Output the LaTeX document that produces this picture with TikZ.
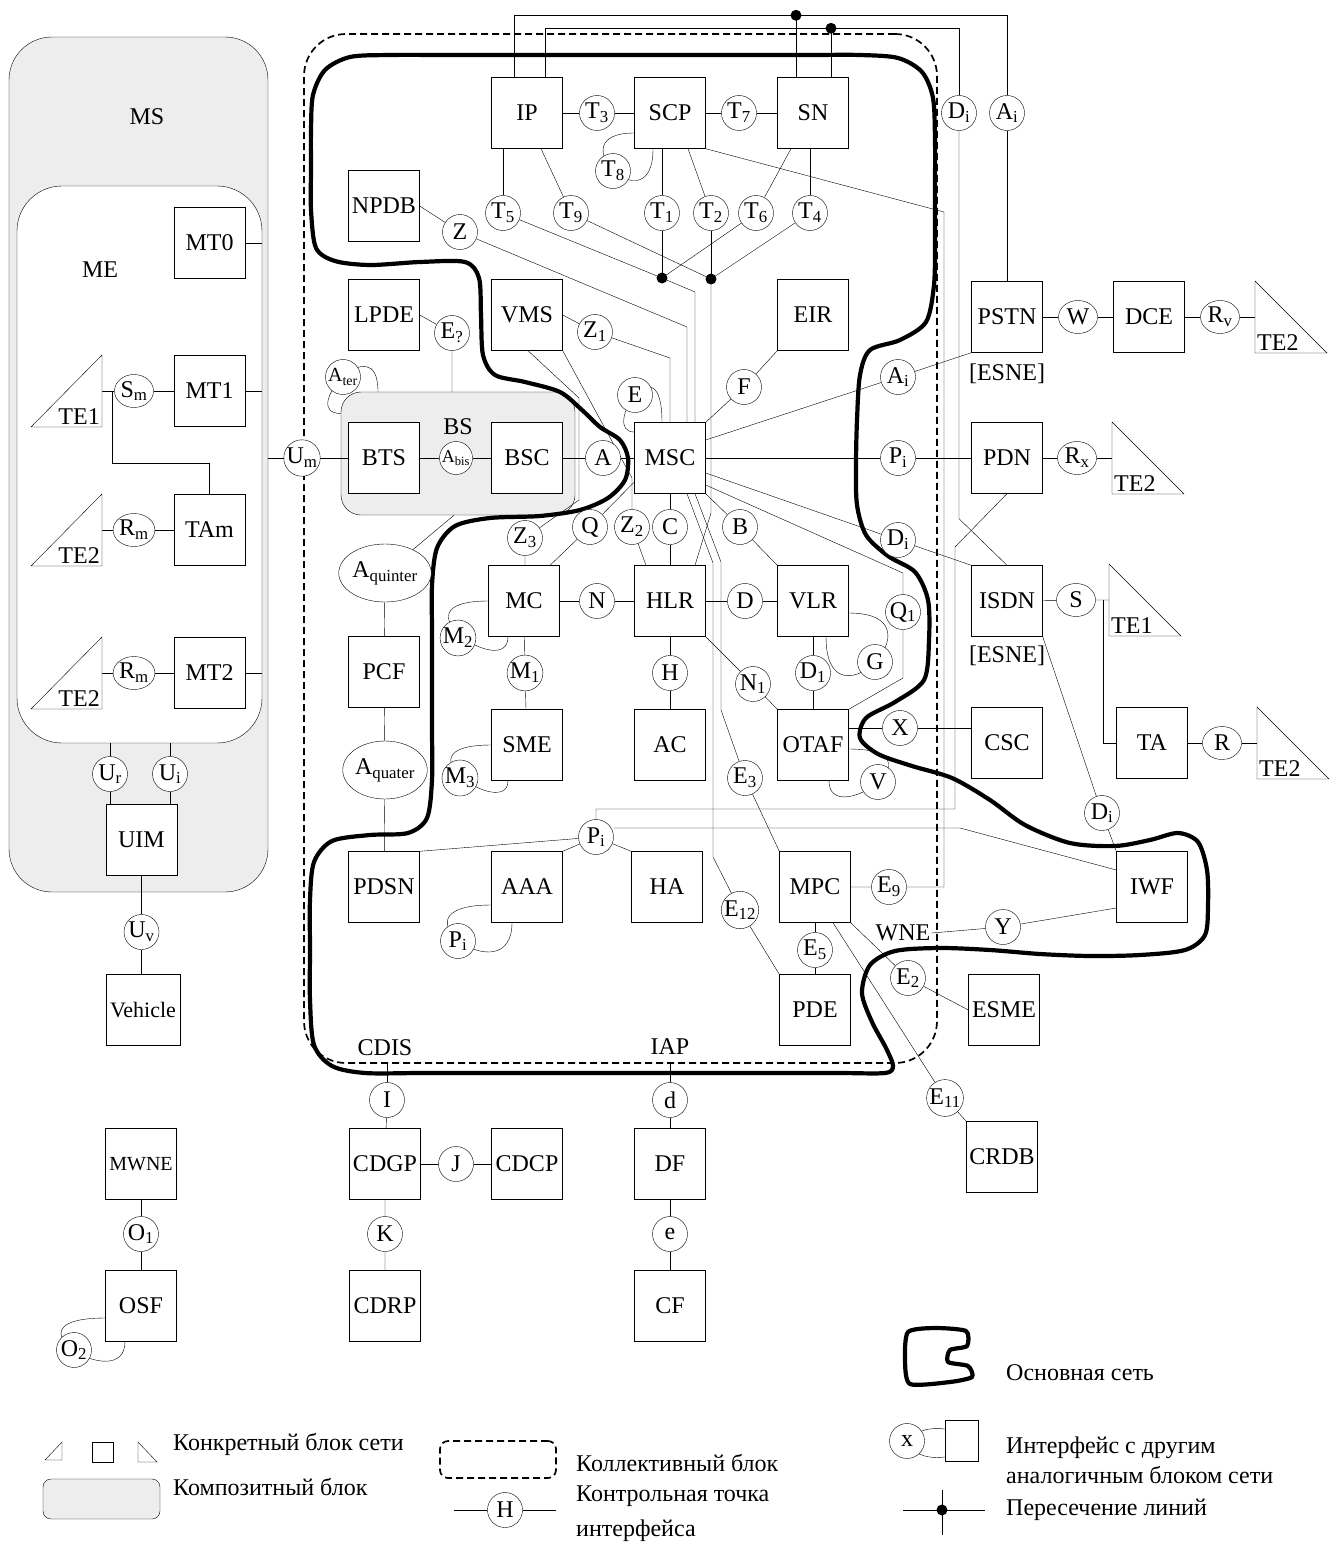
\documentclass[tikz,border=0pt]{standalone}
\usepackage{fontspec}
\setmainfont{Liberation Serif}
\usetikzlibrary{positioning, shapes.geometric, calc}

\pgfdeclarelayer{back}
\pgfdeclarelayer{wires}
\pgfsetlayers{back,wires,main}

\begin{document}
\begin{tikzpicture}[
  x=1pt, y=-1pt,
  font=\fontsize{24}{28}\selectfont,
  line width=1.6pt,
  blk/.style={draw, fill=white, minimum width=71pt, minimum height=71pt, inner sep=0pt},
  ip/.style={circle, draw, fill=white, minimum size=35pt, inner sep=0pt},
  ipw/.style={ellipse, draw, fill=white, minimum width=39pt, minimum height=33pt, inner sep=0pt},
  ipq/.style={ellipse, draw, fill=white, minimum width=84pt, minimum height=58pt, inner sep=0pt},
  lab/.style={inner sep=1pt},
  comp/.style={draw, fill=black!7},
  coll/.style={draw, line width=1.7pt, dash pattern=on 7pt off 4pt, rounded corners=42pt},
  core/.style={line width=4.2pt, line join=round},
  jdot/.style={circle, fill, inner sep=0pt, minimum size=11pt},
]
\useasboundingbox (0,0) rectangle (1338,1555);

% ---- composite and collective blocks -----------------------------------
\begin{pgfonlayer}{back}
  \node[comp, rounded corners=43pt, minimum width=259pt, minimum height=855pt] (MS) at (138.5,464.5) {};
  \node[draw, fill=white, rounded corners=45pt, minimum width=245pt, minimum height=557pt] (ME) at (139.5,464.5) {};
  \node[comp, rounded corners=20pt, minimum width=234pt, minimum height=123pt] (BS) at (458,453.5) {};
  \node[coll, minimum width=633pt, minimum height=1029pt] (Coll) at (620.5,548.5) {};
\end{pgfonlayer}

% ---- mobile station ------------------------------------------------------
\node[lab] (MSl) at (147,117) {MS};
\node[lab] (MEl) at (100,270) {ME};
\node[blk] (MT0) at (209.5,243) {MT0};
\node[blk] (MT1) at (209.5,391) {MT1};
\node[blk] (TAm) at (209.5,530) {TAm};
\node[blk] (MT2) at (209.5,673) {MT2};
\node[blk] (UIM) at (141.5,840) {UIM};
\node[blk, minimum width=74pt, font=\fontsize{22}{26}\selectfont] (Veh) at (143,1010) {Vehicle};
\node[ipw] (Sm) at (134,391) {S\textsubscript{m}};
\node[ipw] (Rm1) at (134,530) {R\textsubscript{m}};
\node[ipw] (Rm2) at (134,673) {R\textsubscript{m}};
\node[ip] (Ur) at (110,774) {U\textsubscript{r}};
\node[ip] (Ui) at (170,774) {U\textsubscript{i}};
\node[ip] (Uv) at (141.5,932) {U\textsubscript{v}};
\node[ip] (Um) at (302,458) {U\textsubscript{m}};

\foreach \nm/\x/\y/\t in {teA/102/391/TE1, teB/102/530/TE2, teC/102/673/TE2} {
  \draw[fill=white] (\x-71,\y+36) -- (\x,\y-36) -- (\x,\y+36) -- cycle;
  \coordinate (\nm) at (\x,\y);
  \node[lab, anchor=south east] (\nm t) at (\x-1,\y+35) {\t};
}

% ---- intelligent network part -------------------------------------------
\node[blk] (IP) at (527,113) {IP};
\node[blk] (SCP) at (670,113) {SCP};
\node[blk] (SN) at (813,113) {SN};
\node[ip] (T3) at (597,113) {T\textsubscript{3}};
\node[ip] (T7) at (739,113) {T\textsubscript{7}};
\node[ip] (T8) at (613,171) {T\textsubscript{8}};
\node[ip] (T5) at (503,213) {T\textsubscript{5}};
\node[ip] (T9) at (571,213) {T\textsubscript{9}};
\node[ip] (T1) at (662,213) {T\textsubscript{1}};
\node[ip] (T2) at (711,213) {T\textsubscript{2}};
\node[ip] (T6) at (756,213) {T\textsubscript{6}};
\node[ip] (T4) at (810,213) {T\textsubscript{4}};
\node[jdot] (dotA) at (662,278) {};
\node[jdot] (dotB) at (711,279) {};
\node[ip] (DiT) at (959,113) {D\textsubscript{i}};
\node[ip] (AiT) at (1007,113) {A\textsubscript{i}};

% ---- core network blocks ------------------------------------------------
\node[blk] (NPDB) at (384,206) {NPDB};
\node[blk] (LPDE) at (384,315) {LPDE};
\node[blk] (VMS) at (527,315) {VMS};
\node[blk] (EIR) at (813,315) {EIR};
\node[blk] (BTS) at (384,458) {BTS};
\node[blk] (BSC) at (527,458) {BSC};
\node[blk] (MSC) at (670,458) {MSC};
\node[blk] (MC) at (524,601) {MC};
\node[blk] (HLR) at (670,601) {HLR};
\node[blk] (VLR) at (813,601) {VLR};
\node[blk] (PCF) at (384,672) {PCF};
\node[blk] (SME) at (527,745) {SME};
\node[blk] (AC) at (670,745) {AC};
\node[blk] (OTAF) at (813,745) {OTAF};
\node[blk] (PDSN) at (384,887) {PDSN};
\node[blk] (AAA) at (527,887) {AAA};
\node[blk] (HA) at (667,887) {HA};
\node[blk] (MPC) at (815,887) {MPC};
\node[blk] (PDE) at (815,1010) {PDE};
\node[lab] (BSl) at (458,427) {BS};

\node[ip] (Z) at (460,232) {Z};
\node[ip] (Eq) at (452,333) {E\textsubscript{?}};
\node[ip] (Z1) at (595,332) {Z\textsubscript{1}};
\node[ip, font=\fontsize{20}{24}\selectfont] (Ater) at (343,377) {A\textsubscript{ter}};
\node[ip] (E) at (635,395) {E};
\node[ip] (F) at (744,387) {F};
\node[ip, minimum size=33pt, font=\fontsize{18}{20}\selectfont] (Abis) at (456,458) {A\textsubscript{bis}};
\node[ip] (A) at (603,458) {A};
\node[ip] (Ai) at (898,377) {A\textsubscript{i}};
\node[ip] (Pi) at (898,458) {P\textsubscript{i}};
\node[ip] (Di) at (898,540) {D\textsubscript{i}};
\node[ip] (Z3) at (525,538) {Z\textsubscript{3}};
\node[ip] (Q) at (590,527) {Q};
\node[ip] (Z2) at (632,527) {Z\textsubscript{2}};
\node[ip] (C) at (670,527) {C};
\node[ip] (B) at (740,527) {B};
\node[ip] (N) at (597,601) {N};
\node[ip] (D) at (745,601) {D};
\node[ip] (Q1) at (903,612) {Q\textsubscript{1}};
\node[ipq] (Aq5) at (385,573) {A\textsubscript{quinter}};
\node[ip] (M2) at (458,638) {M\textsubscript{2}};
\node[ip] (M1) at (525,673) {M\textsubscript{1}};
\node[ip] (H) at (670,673) {H};
\node[ip] (N1) at (753,684) {N\textsubscript{1}};
\node[ip] (D1) at (813,673) {D\textsubscript{1}};
\node[ip] (G) at (875,662) {G};
\node[ipq] (Aq4) at (385,770) {A\textsubscript{quater}};
\node[ip] (X) at (900,728) {X};
\node[ip] (M3) at (460,778) {M\textsubscript{3}};
\node[ip] (V) at (878,782) {V};
\node[ip] (E3) at (745,778) {E\textsubscript{3}};
\node[ip] (Pi2) at (596,837) {P\textsubscript{i}};
\node[ip] (Pi3) at (458,941) {P\textsubscript{i}};
\node[ip] (E9) at (889,887) {E\textsubscript{9}};
\node[ip] (E12) at (740,910) {E\textsubscript{12}};
\node[ip] (E5) at (815,950) {E\textsubscript{5}};
\node[ip] (E2b) at (908,978) {E\textsubscript{2}};
\node[ip] (Y) at (1003,927) {Y};
\node[lab] (WNE) at (903,933) {WNE};
\node[ip] (E11) at (945,1098) {E\textsubscript{11}};
\node[lab] (CDIS) at (385,1048) {CDIS};
\node[lab] (IAP) at (670,1047) {IAP};

% ---- outer networks -----------------------------------------------------
\node[blk] (PSTN) at (1007,317) {PSTN};
\node[lab] (esneA) at (1007,374) {[ESNE]};
\node[blk] (DCE) at (1149,317) {DCE};
\node[blk] (PDN) at (1007,458) {PDN};
\node[blk] (ISDN) at (1007,601) {ISDN};
\node[lab] (esneB) at (1007,656) {[ESNE]};
\node[blk] (CSC) at (1007,743) {CSC};
\node[blk] (TA) at (1152,743) {TA};
\node[blk] (IWF) at (1152,887) {IWF};
\node[blk] (ESME) at (1004,1010) {ESME};
\node[blk] (CRDB) at (1002,1157) {CRDB};
\node[ipw] (W) at (1078,317) {W};
\node[ipw] (Rv) at (1220,317) {R\textsubscript{v}};
\node[ipw] (Rx) at (1077,458) {R\textsubscript{x}};
\node[ipw] (S) at (1076,600) {S};
\node[ipw] (R) at (1222,743) {R};
\node[ip] (Di3) at (1102,813) {D\textsubscript{i}};

\foreach \nm/\x/\y/\t in {teD/1255/317/TE2, teE/1112/458/TE2, teF/1109/600/TE1, teG/1257/743/TE2} {
  \draw[fill=white] (\x,\y-36) -- (\x,\y+36) -- (\x+72,\y+36) -- cycle;
  \coordinate (\nm) at (\x,\y);
  \node[lab, anchor=south west] (\nm t) at (\x+1,\y+35) {\t};
}

% ---- charging, lawful interception, operations ---------------------------
\node[ip] (I) at (387,1100) {I};
\node[blk] (CDGP) at (385,1164) {CDGP};
\node[ip] (J) at (456,1164) {J};
\node[blk] (CDCP) at (527,1164) {CDCP};
\node[ip] (K) at (385,1234) {K};
\node[blk] (CDRP) at (385,1306) {CDRP};
\node[ip] (d) at (670,1100) {d};
\node[blk] (DF) at (670,1164) {DF};
\node[ip] (e) at (670,1234) {e};
\node[blk] (CF) at (670,1306) {CF};
\node[blk, font=\fontsize{20}{24}\selectfont] (MWNE) at (141,1164) {MWNE};
\node[ip] (O1) at (141,1234) {O\textsubscript{1}};
\node[blk] (OSF) at (141,1306) {OSF};
\node[ip] (O2) at (74,1350) {O\textsubscript{2}};

% ---- connections ----------------------------------------------------------
\begin{pgfonlayer}{wires}
  % inside the mobile station
  \draw (MT0.east) -- (MT0.east -| ME.east);
  \draw (MT1.east) -- (MT1.east -| ME.east);
  \draw (MT2.east) -- (MT2.east -| ME.east);
  \draw (teA) -- (Sm) -- (MT1);
  \coordinate (jSm) at (112,391);
  \draw (jSm) |- ([yshift=31pt]TAm.north) -- (TAm.north);
  \draw (teB) -- (Rm1) -- (TAm);
  \draw (teC) -- (Rm2) -- (MT2);
  \draw (Ur |- ME.south) -- (Ur) -- (Ur |- UIM.north);
  \draw (Ui |- ME.south) -- (Ui) -- (Ui |- UIM.north);
  \draw (UIM) -- (Uv) -- (Uv |- Veh.north);
  \draw (Um -| MS.east) -- (Um) -- (BTS);

  % top busses
  \draw ([xshift=-13pt]IP.north) -- ++(0,-62) -| (AiT);
  \draw (AiT) -- (PSTN);
  \draw ([xshift=18pt]IP.north) -- ++(0,-49) -| (DiT);
  \draw (DiT.south) -- ++(0,388) -- (ISDN.north);
  \draw ([xshift=-17pt]SN.north) -- ++(0,-62) node[jdot] (dotT1) {};
  \draw ([xshift=18pt]SN.north) -- ++(0,-49) node[jdot] (dotT2) {};

  % IN interfaces
  \draw (IP) -- (T3) -- (SCP) -- (T7) -- (SN);
  \draw ([yshift=-20pt]SCP.west) .. controls +(-80,0) and +(0,80) .. ([xshift=-17pt]SCP.south);
  \draw ([xshift=-24pt]IP.south) -- (T5);
  \draw ([xshift=14pt]IP.south) -- (T9);
  \draw ([xshift=-8pt]SCP.south) -- (T1);
  \draw ([xshift=18pt]SCP.south) -- (T2);
  \draw ([xshift=-22pt]SN.south) -- (T6);
  \draw ([xshift=-3pt]SN.south) -- (T4);
  \draw (T1) -- (dotA.center);
  \draw (T6) -- (dotA.center);
  \draw (T5) -- (dotA.center) -- ++(33,14) -- ([xshift=25pt]MSC.north);
  \draw (T2) -- (dotB.center);
  \draw (T9) -- (dotB.center);
  \draw (T4) -- (dotB.center);
  \draw (dotB.center) -- ++(0,234) -- ([xshift=25pt]HLR.north);
  \draw (SCP.south east) -- (944,212) -- (944,887) -- (E9) -- (MPC);

  % around the MSC
  \draw (NPDB.east) -- (Z) -- (687,327) -- ([xshift=17pt]MSC.north);
  \draw (LPDE.east) -- (Eq) -- (Eq |- BS.north);
  \draw (VMS.east) -- (Z1) -- (670,358) -- (MSC.north);
  \draw ([xshift=1pt]VMS.south) -- (579,398) -- (579,500) -- (Z3) -- (Z3 |- MC.north);
  \draw (VMS.south east) -- (632,478) -- (Z2) -- ([xshift=-24pt]HLR.north);
  \draw (EIR.south west) -- (F) -- (MSC.north east);
  \draw ([xshift=-8pt]MSC.north) .. controls +(0,-85) and +(-35,0) .. ([yshift=26pt]MSC.west);
  \draw (BTS) -- (Abis) -- (BSC) -- (A) -- (MSC);
  \draw ([xshift=-80pt]BS.north) .. controls +(0,-68) and +(-44,0) .. ([yshift=40pt]BS.west);
  \draw ([xshift=-4pt]BS.south) -- (Aq5) -- (PCF) -- (Aq4) -- (PDSN);
  \draw ([yshift=-24pt]MSC.west) -- (Q) -- ([xshift=26pt]MC.north);
  \draw (MSC) -- (C) -- (HLR);
  \draw (MSC.south east) -- (B) -- (VLR.north west);
  \draw ([xshift=17pt]MSC.south) -- (713,563) -- (713,857) -- (E12) -- (PDE.north west);
  \draw ([xshift=25pt]MSC.south) -- (721,562) -- (721,710) -- (E3) -- (MPC.north west);
  \draw ([yshift=18pt]MSC.east) -- (Ai) -- (PSTN.south west);
  \draw (MSC) -- (Pi) -- (PDN);
  \draw ([yshift=-15pt]MSC.east) -- (Di) -- (ISDN.north west);
  \draw ([yshift=-27pt]MSC.east) -- (903,573) -- (Q1) -- (903,678) -- (OTAF.north east);

  % HLR, VLR and friends
  \draw (MC) -- (N) -- (HLR) -- (D) -- (VLR);
  \draw (MC.west) .. controls +(-100,0) and +(0,45) .. ([xshift=-16pt]MC.south);
  \draw (MC) -- (M1) -- (SME);
  \draw (SME.west) .. controls +(-100,0) and +(0,40) .. ([xshift=-19pt]SME.south);
  \draw (HLR) -- (H) -- (AC);
  \draw (HLR.south east) -- (N1) -- (OTAF.north west);
  \draw (VLR) -- (D1) -- (OTAF);
  \draw ([yshift=-12pt]VLR.east) .. controls +(100,0) and +(0,100) .. ([xshift=13pt]VLR.south);
  \draw ([yshift=17pt]OTAF.east) -- (X) -- (X -| CSC.west);
  \draw ([yshift=-4pt]OTAF.east) .. controls +(100,0) and +(0,50) .. ([xshift=16pt]OTAF.south);

  % packet data
  \draw (PDSN.north east) -- (Pi2) -- (AAA.north east);
  \draw (Pi2) -- (HA.north west);
  \draw (Pi2.north) -- (596,809) -- (955,809) -- (955,547) -- (PDN.south);
  \draw ([yshift=9pt]Pi2.east) -- (960,828) -- ([yshift=17pt]IWF.west);
  \draw ([yshift=-18pt]AAA.west) .. controls +(-110,0) and +(0,75) .. ([xshift=-15pt]AAA.south);

  % positioning
  \draw (MPC) -- (E5) -- (PDE);
  \draw (MPC.south east) -- (E2b) -- (ESME.west);
  \draw ([xshift=18pt]MPC.south) -- (E11) -- (CRDB.north west);
  \draw (ISDN.south east) -- (Di3) -- (IWF.north west);
  \draw ([yshift=-21pt]IWF.west) -- (Y) -- (WNE.east);

  % external networks
  \draw (PSTN) -- (W) -- (DCE) -- (Rv) -- (teD);
  \draw (PDN) -- (Rx) -- (teE);
  \draw (ISDN) -- (S) -- (teF);
  \coordinate (jS) at (1103,600);
  \draw (jS) |- (TA.west);
  \draw (TA) -- (R) -- (teG);

  % lower blocks
  \draw (I) -- (I |- Coll.south);
  \draw (d) -- (d |- Coll.south);
  \draw (I) -- (CDGP) -- (K) -- (CDRP);
  \draw (CDGP) -- (J) -- (CDCP);
  \draw (d) -- (DF) -- (e) -- (CF);
  \draw (MWNE) -- (O1) -- (OSF);
  \draw ([yshift=-12pt]OSF.west) .. controls +(-110,0) and +(0,55) .. ([xshift=-16pt]OSF.south);

  % core network outline
  \draw[core] plot[smooth cycle, tension=0.5] coordinates {
    (311,130) (313,95) (325,70) (350,57) (390,55) (450,55) (510,55) (570,55)
    (630,55) (690,55) (750,55) (810,55) (860,55) (898,58) (922,72) (933,98)
    (935,140) (935,190) (935,240) (934,285) (926,322) (900,340) (870,350)
    (860,375) (857,420) (856,465) (857,505) (866,535) (888,556) (915,572)
    (928,600) (929,640) (924,680) (895,702) (866,718) (860,738) (878,754)
    (912,766) (952,778) (990,800) (1025,825) (1070,843) (1115,846) (1150,840)
    (1178,833) (1198,842) (1207,870) (1208,905) (1205,935) (1185,950)
    (1140,955) (1090,956) (1040,954) (990,950) (940,948) (895,951) (870,965)
    (862,993) (872,1022) (886,1048) (893,1066) (885,1073) (840,1073)
    (780,1073) (720,1073) (660,1073) (600,1073) (540,1073) (480,1073)
    (420,1073) (365,1073) (332,1066) (314,1045) (310,1000) (310,950)
    (310,900) (314,862) (332,841) (370,835) (408,833) (427,818) (432,780)
    (432,730) (432,680) (432,630) (432,585) (437,548) (455,526) (490,518)
    (540,516) (580,510) (608,498) (625,480) (628,458) (620,440) (600,427)
    (582,410) (560,392) (525,382) (495,375) (483,355) (481,315) (479,278)
    (465,262) (420,262) (370,265) (335,261) (316,248) (311,210) (311,170)};
\end{pgfonlayer}

% ---- legend -----------------------------------------------------------------
\draw[core] plot[smooth cycle, tension=0.4] coordinates {(908,1332) (935,1328) (966,1331)
  (967,1346) (950,1350) (948,1362) (968,1366) (972,1377) (950,1382) (910,1384) (905,1360)};
\node[lab, anchor=west] (lgCore) at (1005,1373) {Основная сеть};

\draw (45,1460) -- (62,1442) -- (62,1460) -- cycle;
\draw (92,1442) rectangle (113,1462);
\draw (138,1442) -- (138,1462) -- (157,1462) -- cycle;
\node[lab, anchor=west] (lgConc) at (172,1444) {Конкретный блок сети};
\node[comp, rounded corners=8pt, minimum width=117pt, minimum height=40pt] (lgComp) at (101.5,1499) {};
\node[lab, anchor=west] (lgCompT) at (172,1487) {Композитный блок};

\node[coll, rounded corners=8pt, minimum width=116pt, minimum height=37pt] (lgColl) at (498,1459.5) {};
\node[lab, anchor=west] (lgCollT) at (575,1463) {Коллективный блок};
\node[ip] (lgH) at (505,1510) {H};
\draw (lgH.west) -- ++(-33,0);
\draw (lgH.east) -- ++(33,0);
\node[lab, anchor=west, align=left, font=\fontsize{24}{35}\selectfont] (lgHT) at (575,1514)
  {Контрольная точка\\интерфейса};

\node[draw, fill=white, minimum width=33pt, minimum height=41pt] (lgBox) at (961.5,1441) {};
\draw ([yshift=12pt]lgBox.west) .. controls +(-45,-5) and +(-45,5) .. ([yshift=-16pt]lgBox.west);
\node[ip] (lgX) at (907,1441) {x};
\node[lab, anchor=west, align=left, font=\fontsize{24}{30}\selectfont] (lgXT) at (1005,1460)
  {Интерфейс с другим\\аналогичным блоком сети};

\node[jdot] (lgDot) at (942,1510) {};
\draw ([xshift=-39pt]lgDot.center) -- ([xshift=43pt]lgDot.center);
\draw ([yshift=20pt]lgDot.center) -- ([yshift=-25pt]lgDot.center);
\node[lab, anchor=west] (lgDotT) at (1005,1510) {Пересечение линий};

\end{tikzpicture}
\end{document}
